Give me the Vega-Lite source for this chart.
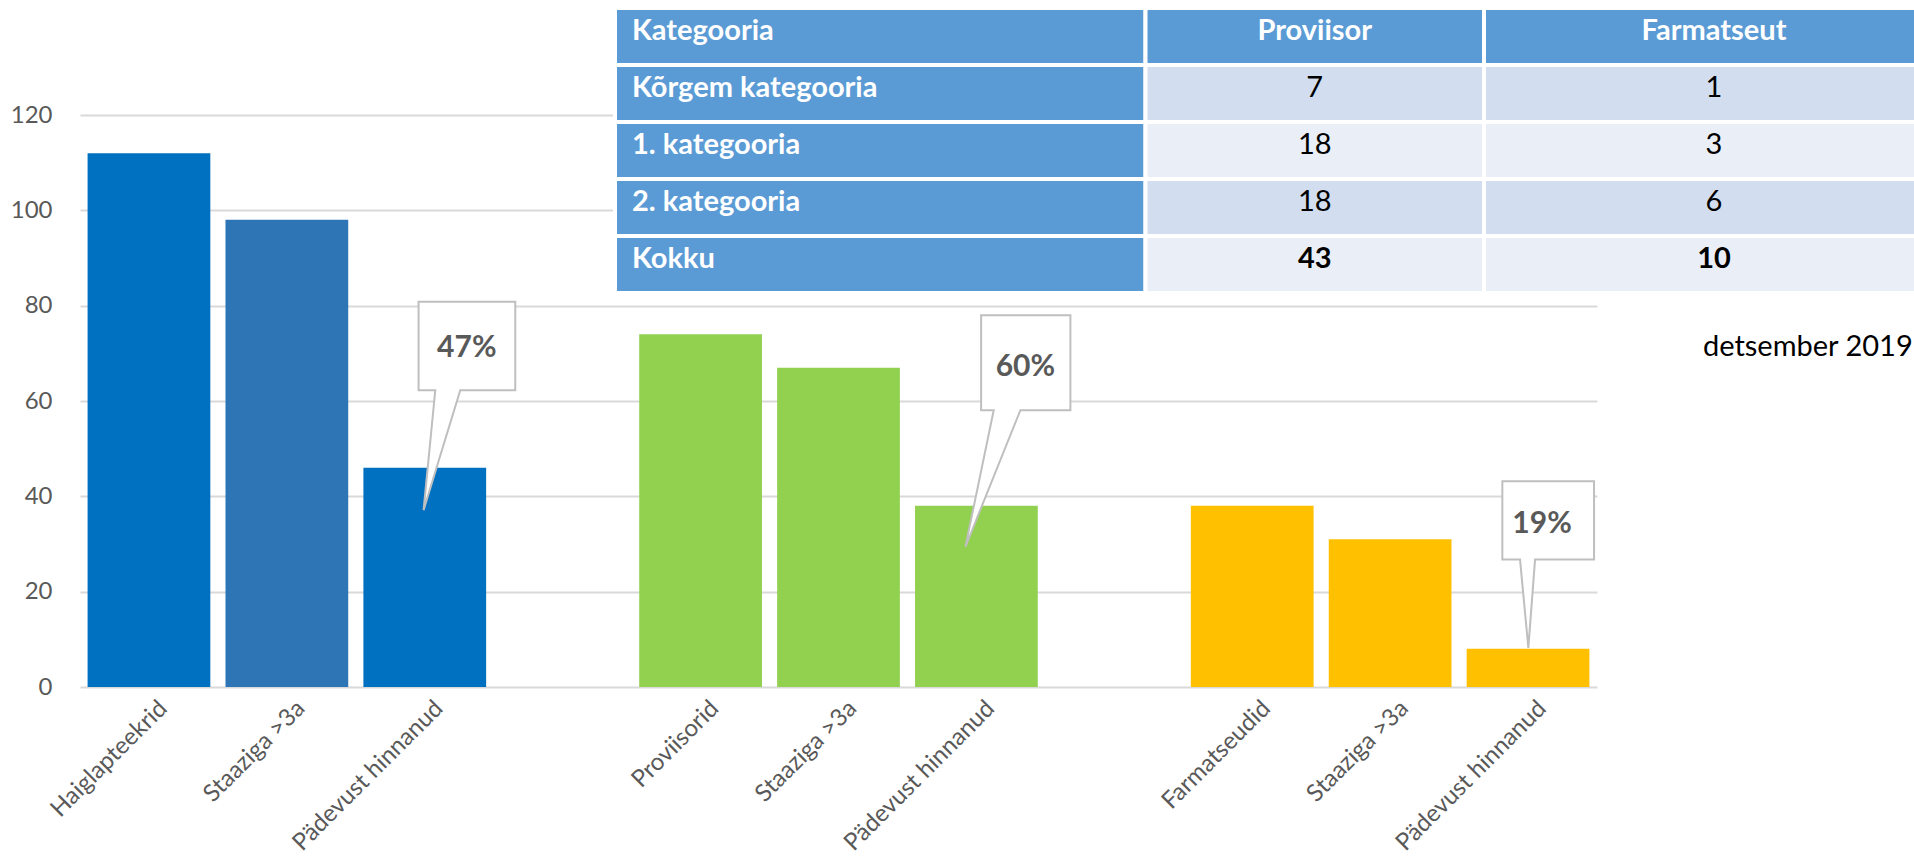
{
  "$schema": "https://vega.github.io/schema/vega-lite/v6.json",
  "width": 1517,
  "height": 572,
  "autosize": {"type": "none"},
  "padding": {"left": 80, "top": 115, "right": 317, "bottom": 181},
  "background": "white",
  "config": {"view": {"stroke": null}, "font": "Lato"},
  "datasets": {
    "tulbad": [
      {"cat": "1|Haiglapteekrid", "seeria": "Haiglaapteegid", "v": 112},
      {"cat": "2|Staaziga >3a", "seeria": "Haiglaapteegid (staaž)", "v": 98},
      {"cat": "3|Pädevust hinnanud", "seeria": "Haiglaapteegid", "v": 46},
      {"cat": "5|Proviisorid", "seeria": "Proviisorid", "v": 74},
      {"cat": "6|Staaziga >3a", "seeria": "Proviisorid", "v": 67},
      {"cat": "7|Pädevust hinnanud", "seeria": "Proviisorid", "v": 38},
      {"cat": "9|Farmatseudid", "seeria": "Farmatseudid", "v": 38},
      {"cat": "10|Staaziga >3a", "seeria": "Farmatseudid", "v": 31},
      {"cat": "11|Pädevust hinnanud", "seeria": "Farmatseudid", "v": 8}
    ],
    "viited": [
      {"cat": "3|Pädevust hinnanud", "tip": 37.1, "ly": 71.1, "label": "47%", "kuju": "k47"},
      {"cat": "7|Pädevust hinnanud", "tip": 29.4, "ly": 67.1, "label": "60%", "kuju": "k60"},
      {"cat": "11|Pädevust hinnanud", "tip": 8.2, "ly": 34.3, "label": "19%", "kuju": "k19"}
    ],
    "tabel": [
      {"rida": "Kategooria", "veerg": "Kategooria", "tekst": "Kategooria"},
      {"rida": "Kategooria", "veerg": "Proviisor", "tekst": "Proviisor"},
      {"rida": "Kategooria", "veerg": "Farmatseut", "tekst": "Farmatseut"},
      {"rida": "Kõrgem kategooria", "veerg": "Kategooria", "tekst": "Kõrgem kategooria"},
      {"rida": "Kõrgem kategooria", "veerg": "Proviisor", "tekst": "7"},
      {"rida": "Kõrgem kategooria", "veerg": "Farmatseut", "tekst": "1"},
      {"rida": "1. kategooria", "veerg": "Kategooria", "tekst": "1. kategooria"},
      {"rida": "1. kategooria", "veerg": "Proviisor", "tekst": "18"},
      {"rida": "1. kategooria", "veerg": "Farmatseut", "tekst": "3"},
      {"rida": "2. kategooria", "veerg": "Kategooria", "tekst": "2. kategooria"},
      {"rida": "2. kategooria", "veerg": "Proviisor", "tekst": "18"},
      {"rida": "2. kategooria", "veerg": "Farmatseut", "tekst": "6"},
      {"rida": "Kokku", "veerg": "Kategooria", "tekst": "Kokku"},
      {"rida": "Kokku", "veerg": "Proviisor", "tekst": "43"},
      {"rida": "Kokku", "veerg": "Farmatseut", "tekst": "10"}
    ],
    "veerud": [
      {"veerg": "Kategooria", "v0": 0, "v1": 1, "vk": 0.5},
      {"veerg": "Proviisor", "v0": 1, "v1": 2, "vk": 1.5},
      {"veerg": "Farmatseut", "v0": 2, "v1": 3, "vk": 2.5}
    ],
    "read": [
      {"rida": "Kategooria", "r0": 0, "r1": 1},
      {"rida": "Kõrgem kategooria", "r0": 1, "r1": 2},
      {"rida": "1. kategooria", "r0": 2, "r1": 3},
      {"rida": "2. kategooria", "r0": 3, "r1": 4},
      {"rida": "Kokku", "r0": 4, "r1": 5}
    ]
  },
  "layer": [
    {
      "encoding": {
        "x": {
          "field": "cat",
          "type": "nominal",
          "title": null,
          "scale": {
            "domain": ["1|Haiglapteekrid", "2|Staaziga >3a", "3|Pädevust hinnanud", "4|", "5|Proviisorid", "6|Staaziga >3a", "7|Pädevust hinnanud", "8|", "9|Farmatseudid", "10|Staaziga >3a", "11|Pädevust hinnanud"],
            "paddingInner": 0.11,
            "paddingOuter": 0.055
          },
          "axis": {
            "labelExpr": "split(datum.value, '|')[1]",
            "labelAngle": -45,
            "labelFontSize": 24,
            "labelColor": "#595959",
            "labelFont": "Lato",
            "labelPadding": 9,
            "labelOffset": 6,
            "labelLimit": 400,
            "labelOverlap": false,
            "ticks": false,
            "domain": false,
            "grid": false
          }
        }
      },
      "layer": [
        {
          "data": {"name": "tulbad"},
          "mark": {"type": "bar"},
          "encoding": {
            "y": {
              "field": "v",
              "type": "quantitative",
              "title": null,
              "scale": {"domain": [0, 120], "nice": false, "zero": true},
              "axis": {
                "values": [0, 20, 40, 60, 80, 100, 120],
                "grid": true,
                "gridColor": "#D9D9D9",
                "gridWidth": 2,
                "ticks": false,
                "domain": false,
                "labelFontSize": 24,
                "labelFont": "Lato",
                "labelColor": "#595959",
                "labelPadding": 28
              }
            },
            "color": {
              "field": "seeria",
              "type": "nominal",
              "scale": {
                "domain": ["Haiglaapteegid", "Haiglaapteegid (staaž)", "Proviisorid", "Farmatseudid"],
                "range": ["#0070C0", "#2E75B6", "#92D050", "#FFC000"]
              },
              "legend": null
            }
          }
        },
        {
          "data": {"name": "viited"},
          "mark": {"type": "point", "filled": true, "fill": "white", "stroke": "#BFBFBF", "strokeWidth": 2, "opacity": 1, "size": 40000},
          "encoding": {
            "y": {"field": "tip", "type": "quantitative", "title": null},
            "shape": {
              "field": "kuju",
              "type": "nominal",
              "scale": {
                "domain": ["k47", "k60", "k19"],
                "range": [
                  "M-0.062,-2.083H0.905V-1.2H0.355L-0.012,0L0.105,-1.2H-0.062Z",
                  "M0.047,-2.317H0.94V-1.367H0.44L-0.11,0L0.173,-1.367H0.047Z",
                  "M-0.257,-1.666H0.66V-0.883H0.07L0.003,0L-0.08,-0.883H-0.257Z"
                ]
              },
              "legend": null
            }
          }
        },
        {
          "data": {"name": "viited"},
          "transform": [{"filter": "datum.label === '47%'"}],
          "mark": {"type": "text", "dx": 42, "font": "Lato", "fontWeight": "bold", "fontSize": 30, "color": "#595959", "baseline": "middle", "align": "center"},
          "encoding": {
            "y": {"field": "ly", "type": "quantitative", "title": null},
            "text": {"field": "label"}
          }
        },
        {
          "data": {"name": "viited"},
          "transform": [{"filter": "datum.label === '60%'"}],
          "mark": {"type": "text", "dx": 49, "font": "Lato", "fontWeight": "bold", "fontSize": 30, "color": "#595959", "baseline": "middle", "align": "center"},
          "encoding": {
            "y": {"field": "ly", "type": "quantitative", "title": null},
            "text": {"field": "label"}
          }
        },
        {
          "data": {"name": "viited"},
          "transform": [{"filter": "datum.label === '19%'"}],
          "mark": {"type": "text", "dx": 14, "font": "Lato", "fontWeight": "bold", "fontSize": 30, "color": "#595959", "baseline": "middle", "align": "center"},
          "encoding": {
            "y": {"field": "ly", "type": "quantitative", "title": null},
            "text": {"field": "label"}
          }
        }
      ]
    },
    {
      "layer": [
        {
          "data": {"name": "tabel"},
          "transform": [
            {"lookup": "veerg", "from": {"data": {"name": "veerud"}, "key": "veerg", "fields": ["v0", "v1", "vk"]}},
            {"lookup": "rida", "from": {"data": {"name": "read"}, "key": "rida", "fields": ["r0", "r1"]}}
          ],
          "mark": {"type": "rect", "stroke": "white", "strokeWidth": 4},
          "encoding": {
            "x": {"field": "v0", "type": "quantitative", "axis": null, "scale": {"domain": [0, 1, 2, 3], "range": [535, 1065.5, 1404, 1864], "nice": false, "zero": false}},
            "x2": {"field": "v1"},
            "y": {"field": "r0", "type": "quantitative", "axis": null, "scale": {"domain": [0, 5], "range": [-107, 178], "nice": false, "zero": false}},
            "y2": {"field": "r1"},
            "fill": {
              "condition": [
                {"test": "datum.veerg === 'Kategooria' || datum.rida === 'Kategooria'", "value": "#5B9BD5"},
                {"test": "datum.rida === 'Kõrgem kategooria' || datum.rida === '2. kategooria'", "value": "#D2DEEF"}
              ],
              "value": "#EAEFF7"
            }
          }
        },
        {
          "data": {"name": "tabel"},
          "transform": [
            {"lookup": "veerg", "from": {"data": {"name": "veerud"}, "key": "veerg", "fields": ["v0", "v1", "vk"]}},
            {"lookup": "rida", "from": {"data": {"name": "read"}, "key": "rida", "fields": ["r0", "r1"]}},
            {"filter": "datum.veerg === 'Kategooria'"}
          ],
          "mark": {"type": "text", "align": "left", "baseline": "alphabetic", "dx": 17, "dy": 32, "font": "Lato", "fontWeight": "bold", "fontSize": 29, "color": "white"},
          "encoding": {
            "x": {"field": "v0", "type": "quantitative", "axis": null},
            "y": {"field": "r0", "type": "quantitative", "axis": null},
            "text": {"field": "tekst"}
          }
        },
        {
          "data": {"name": "tabel"},
          "transform": [
            {"lookup": "veerg", "from": {"data": {"name": "veerud"}, "key": "veerg", "fields": ["v0", "v1", "vk"]}},
            {"lookup": "rida", "from": {"data": {"name": "read"}, "key": "rida", "fields": ["r0", "r1"]}},
            {"filter": "datum.rida === 'Kategooria' && datum.veerg !== 'Kategooria'"}
          ],
          "mark": {"type": "text", "align": "center", "baseline": "alphabetic", "dy": 32, "font": "Lato", "fontWeight": "bold", "fontSize": 29, "color": "white"},
          "encoding": {
            "x": {"field": "vk", "type": "quantitative", "axis": null},
            "y": {"field": "r0", "type": "quantitative", "axis": null},
            "text": {"field": "tekst"}
          }
        },
        {
          "data": {"name": "tabel"},
          "transform": [
            {"lookup": "veerg", "from": {"data": {"name": "veerud"}, "key": "veerg", "fields": ["v0", "v1", "vk"]}},
            {"lookup": "rida", "from": {"data": {"name": "read"}, "key": "rida", "fields": ["r0", "r1"]}},
            {"filter": "datum.rida !== 'Kategooria' && datum.rida !== 'Kokku' && datum.veerg !== 'Kategooria'"}
          ],
          "mark": {"type": "text", "align": "center", "baseline": "alphabetic", "dy": 32, "font": "Lato", "fontSize": 29, "color": "black"},
          "encoding": {
            "x": {"field": "vk", "type": "quantitative", "axis": null},
            "y": {"field": "r0", "type": "quantitative", "axis": null},
            "text": {"field": "tekst"}
          }
        },
        {
          "data": {"name": "tabel"},
          "transform": [
            {"lookup": "veerg", "from": {"data": {"name": "veerud"}, "key": "veerg", "fields": ["v0", "v1", "vk"]}},
            {"lookup": "rida", "from": {"data": {"name": "read"}, "key": "rida", "fields": ["r0", "r1"]}},
            {"filter": "datum.rida === 'Kokku' && datum.veerg !== 'Kategooria'"}
          ],
          "mark": {"type": "text", "align": "center", "baseline": "alphabetic", "dy": 32, "font": "Lato", "fontWeight": "bold", "fontSize": 29, "color": "black"},
          "encoding": {
            "x": {"field": "vk", "type": "quantitative", "axis": null},
            "y": {"field": "r0", "type": "quantitative", "axis": null},
            "text": {"field": "tekst"}
          }
        },
        {
          "data": {"values": [{"tekst": "detsember 2019"}]},
          "mark": {"type": "text", "align": "right", "baseline": "alphabetic", "font": "Lato", "fontSize": 29, "color": "black"},
          "encoding": {
            "x": {"datum": 2.932, "type": "quantitative", "axis": null},
            "y": {"datum": 6.1, "type": "quantitative", "axis": null},
            "text": {"field": "tekst"}
          }
        }
      ]
    }
  ],
  "resolve": {"scale": {"x": "independent", "y": "independent"}}
}
